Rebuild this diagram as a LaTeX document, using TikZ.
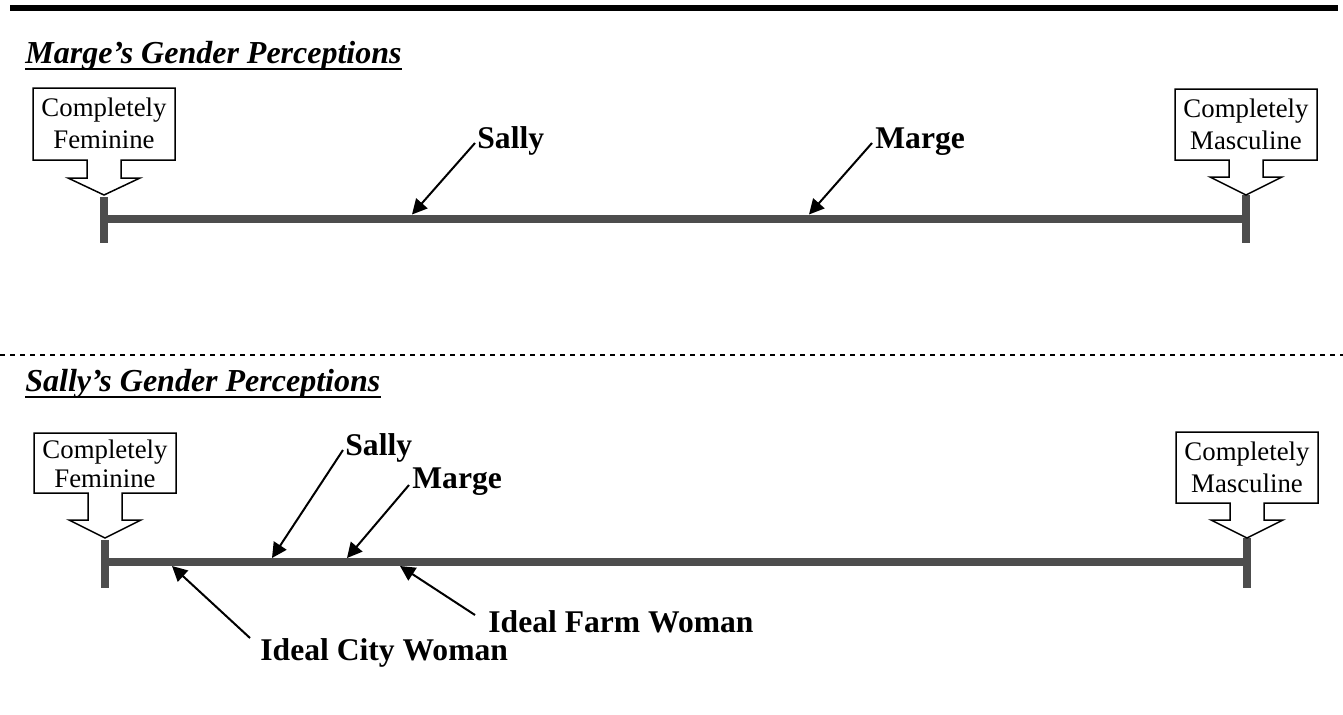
\documentclass[tikz,border=0pt]{standalone}
\usepackage{fontspec}
\setmainfont{Liberation Serif}
\usetikzlibrary{arrows.meta}
\definecolor{barcol}{HTML}{4D4D4D}
\newcommand{\mycallout}[8]{%
  \draw[cbox] ({#1-71},#2) -- ({#1+71},#2) -- ({#1+71},#3) -- ({#1+17},#3) -- ({#1+17},#4) -- ({#1+36},#4) -- (#1,#5) -- ({#1-36},#4) -- ({#1-17},#4) -- ({#1-17},#3) -- ({#1-71},#3) -- cycle;
  \node[ctext] (#6) at (#1,{#2+#8}) {#7};
}
\begin{document}
\begin{tikzpicture}[x=0.5pt,y=-0.5pt,
  bar/.style={line width=4pt, draw=barcol},
  ptr/.style={line width=1pt, -{Triangle[length=7.5pt,width=7.5pt]}},
  lbl/.style={font=\fontsize{15.8}{18}\selectfont\bfseries, inner sep=0pt, anchor=base west},
  ttl/.style={font=\fontsize{16}{19}\selectfont\bfseries\itshape, inner sep=0pt, anchor=base west},
  uline/.style={line width=1.25pt},
  ctext/.style={font=\fontsize{13.4}{16}\selectfont, align=center, inner sep=0pt, anchor=north},
  cbox/.style={draw, line width=0.75pt, fill=white, line join=miter}]
\useasboundingbox (0,0) rectangle (1343,714);

% top rule and separator
\draw[line width=3pt] (10,8) -- (1338,8);
\draw[line width=0.75pt, dash pattern=on 2.5pt off 2.5pt] (0,355) -- (1343,355);

% ---------- Marge's perceptions ----------
\node[ttl] (t1) at (25,63) {Marge’s Gender Perceptions};
\draw[uline] ([yshift=-3pt]t1.base west) -- ([yshift=-3pt]t1.base east);

\coordinate (m1l) at (104,218.5);
\coordinate (m1r) at (1246,218.5);
\draw[bar] (104,197) -- (104,243);
\draw[bar] (1246,195) -- (1246,243);
\draw[bar] (m1l) -- (m1r);

\mycallout{104}{88}{160}{178}{195}{cf1}{Completely\\Feminine}{9}
\mycallout{1246}{89}{160}{177}{195}{cm1}{Completely\\Masculine}{9}

\node[lbl] (s1) at (477,148) {Sally};
\node[lbl] (g1) at (875,148) {Marge};
\coordinate (s1t) at (412,214.5);
\coordinate (g1t) at (809,214.5);
\draw[ptr] ([shift={(-2,-5)}]s1.base west) -- (s1t);
\draw[ptr] ([shift={(-3,-5)}]g1.base west) -- (g1t);

% ---------- Sally's perceptions ----------
\node[ttl] (t2) at (25,391) {Sally’s Gender Perceptions};
\draw[uline] ([yshift=-3pt]t2.base west) -- ([yshift=-3pt]t2.base east);

\coordinate (m2l) at (105,562);
\coordinate (m2r) at (1247,562);
\draw[bar] (105,540) -- (105,588);
\draw[bar] (1247,538) -- (1247,588);
\draw[bar] (m2l) -- (m2r);

\mycallout{105}{433}{493}{520}{538}{cf2}{Completely\\[-1.5pt]Feminine}{6}
\mycallout{1247}{432}{503}{520}{538}{cm2}{Completely\\Masculine}{9}

\node[lbl] (s2) at (345,455) {Sally};
\node[lbl] (g2) at (412,488) {Marge};
\node[lbl] (ic) at (260,660) {Ideal City Woman};
\node[lbl] (if) at (488,632) {Ideal Farm Woman};
\coordinate (s2t) at (272,558);
\coordinate (g2t) at (347,558);
\coordinate (ict) at (172,566);
\coordinate (ift) at (400,566);
\draw[ptr] ([shift={(-2,-5)}]s2.base west) -- (s2t);
\draw[ptr] ([shift={(-3,-3)}]g2.base west) -- (g2t);
\draw[ptr] ([shift={(-10,-22)}]ic.base west) -- (ict);
\draw[ptr] ([shift={(-13,-17)}]if.base west) -- (ift);
\end{tikzpicture}
\end{document}
